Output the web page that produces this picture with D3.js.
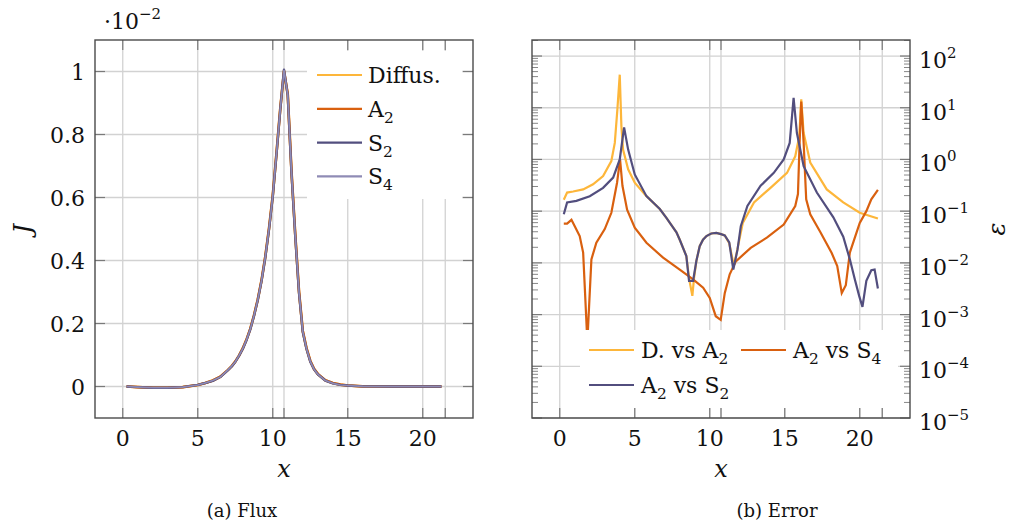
<!DOCTYPE html>
<html>
<head>
<meta charset="utf-8">
<script src="https://cdn.jsdelivr.net/npm/d3@7"></script>
<style>
  html, body { margin: 0; padding: 0; background: #fff; }
  svg { display: block; font-family: "DejaVu Serif", serif; }
</style>
</head>
<body>
<div id="chart"></div>
<script>
// ---------------- DATA ----------------
// (a) Flux, values in units of 1e-2
const fluxX    = [0.25, 1, 2, 3, 4, 5, 5.5, 6, 6.5, 7, 7.25, 7.5, 7.75, 8, 8.25, 8.5, 8.75, 9, 9.25, 9.5, 9.75, 10, 10.25, 10.5, 10.75, 11, 11.25, 11.5, 11.75, 12, 12.25, 12.5, 12.75, 13, 13.5, 14, 14.5, 15, 16, 18, 20, 21.25];
const fluxDiff = [0, -0.002, -0.004, -0.004, -0.002, 0.005, 0.011, 0.019, 0.031, 0.052, 0.064, 0.079, 0.098, 0.121, 0.149, 0.183, 0.226, 0.276, 0.336, 0.411, 0.501, 0.606, 0.741, 0.881, 1.0, 0.926, 0.681, 0.481, 0.301, 0.176, 0.121, 0.081, 0.056, 0.04, 0.02, 0.011, 0.006, 0.003, 0.0005, 0, 0, 0];
const fluxA2   = [0, -0.002, -0.004, -0.004, -0.002, 0.005, 0.011, 0.019, 0.031, 0.052, 0.064, 0.079, 0.098, 0.121, 0.149, 0.183, 0.226, 0.276, 0.337, 0.412, 0.502, 0.607, 0.742, 0.882, 1.002, 0.928, 0.683, 0.483, 0.303, 0.177, 0.122, 0.082, 0.056, 0.04, 0.02, 0.011, 0.006, 0.003, 0.0005, 0, 0, 0];
const fluxS2   = [0, -0.002, -0.004, -0.004, -0.002, 0.005, 0.011, 0.018, 0.030, 0.051, 0.063, 0.078, 0.097, 0.119, 0.147, 0.181, 0.224, 0.274, 0.334, 0.408, 0.498, 0.602, 0.738, 0.878, 1.006, 0.924, 0.677, 0.477, 0.297, 0.173, 0.119, 0.079, 0.055, 0.039, 0.019, 0.01, 0.005, 0.003, 0.0005, 0, 0, 0];
const fluxS4   = [0, -0.002, -0.004, -0.004, -0.002, 0.005, 0.011, 0.019, 0.030, 0.052, 0.064, 0.078, 0.098, 0.120, 0.148, 0.182, 0.225, 0.275, 0.335, 0.410, 0.500, 0.604, 0.740, 0.880, 1.004, 0.925, 0.679, 0.479, 0.299, 0.175, 0.120, 0.080, 0.055, 0.039, 0.019, 0.01, 0.005, 0.003, 0.0005, 0, 0, 0];
const fluxNames = ["Diffus.", "A2", "S2", "S4"];

// (b) Error (log scale)
const errDX = [0.27, 0.49, 0.89, 1.56, 2.22, 2.89, 3.44, 3.67, 3.84, 4.0, 4.11, 4.22, 4.56, 5.0, 5.78, 6.67, 7.11, 7.78, 8.0, 8.44, 8.62, 8.84, 8.95, 9.11, 9.33, 9.55, 9.78, 10.1, 10.44, 10.75, 11.0, 11.3, 11.6, 11.75, 12.2, 12.95, 14.05, 15.15, 15.7, 15.97, 16.1, 16.26, 16.7, 17.8, 18.9, 20.0, 21.21];
const errDV = [1.66e-1, 2.29e-1, 2.4e-1, 2.63e-1, 3.31e-1, 4.79e-1, 9.3e-1, 2.09, 9.1, 43.6, 4.37, 1.55, 6.46e-1, 3.55e-1, 1.95e-1, 1.1e-1, 7.4e-2, 3.9e-2, 2.8e-2, 1.35e-2, 5.0e-3, 2.3e-3, 5.0e-3, 1.1e-2, 2.1e-2, 2.8e-2, 3.3e-2, 3.7e-2, 3.8e-2, 3.6e-2, 3.4e-2, 2.4e-2, 8.9e-3, 1.35e-2, 5.9e-2, 1.48e-1, 2.82e-1, 5.5e-1, 1.15, 2.82, 14.5, 3.24, 8.7e-1, 2.63e-1, 1.48e-1, 9.3e-2, 7.2e-2];

const errS2X = [0.27, 0.49, 1.11, 2.0, 2.89, 3.56, 4.0, 4.29, 4.56, 5.0, 5.78, 6.67, 7.11, 7.78, 8.0, 8.44, 8.62, 8.89, 9.11, 9.33, 9.55, 9.78, 10.1, 10.44, 10.75, 11.0, 11.3, 11.57, 11.85, 12.07, 12.51, 13.39, 14.27, 14.93, 15.33, 15.59, 15.81, 16.26, 17.14, 18.24, 18.9, 19.34, 19.67, 19.96, 20.18, 20.44, 20.77, 20.99, 21.21];
const errS2V = [8.7e-2, 1.48e-1, 1.58e-1, 1.95e-1, 2.82e-1, 4.47e-1, 1.0, 4.17, 1.55, 5.13e-1, 1.95e-1, 1.1e-1, 7.4e-2, 3.9e-2, 2.8e-2, 1.35e-2, 4.5e-3, 4.5e-3, 1.1e-2, 2.1e-2, 2.8e-2, 3.3e-2, 3.7e-2, 3.8e-2, 3.6e-2, 3.4e-2, 2.5e-2, 7.4e-3, 1.8e-2, 5.1e-2, 1.26e-1, 3.1e-1, 5.5e-1, 1.0, 2.09, 15.5, 3.24, 7.4e-1, 2.29e-1, 7.6e-2, 3.2e-2, 1.17e-2, 4.8e-3, 2.3e-3, 1.41e-3, 4.5e-3, 7.2e-3, 7.4e-3, 3.2e-3];

const errS4X = [0.27, 0.49, 0.78, 1.0, 1.33, 1.56, 1.84, 2.11, 2.44, 3.0, 3.44, 3.82, 4.02, 4.18, 4.49, 5.0, 5.78, 6.89, 8.0, 8.89, 9.56, 10.0, 10.4, 10.73, 11.0, 11.33, 11.74, 12.73, 13.83, 14.93, 15.7, 15.88, 15.99, 16.1, 16.26, 16.43, 16.7, 17.36, 18.13, 18.5, 18.8, 19.07, 19.34, 20.0, 20.44, 20.77, 21.21];
const errS4V = [5.75e-2, 5.75e-2, 6.8e-2, 5.1e-2, 3.3e-2, 1.58e-2, 3.0e-4, 1.17e-2, 2.45e-2, 4.5e-2, 9.3e-2, 3.55e-1, 1.0, 3.1e-1, 1.07e-1, 4.8e-2, 2.45e-2, 1.26e-2, 7.4e-3, 4.8e-3, 3.3e-3, 2.1e-3, 9.3e-4, 7.9e-4, 2.6e-3, 6.0e-3, 1.07e-2, 1.95e-2, 3.1e-2, 5.5e-2, 1.26e-1, 2.14e-1, 2.09, 13.2, 2.09, 1.7e-1, 8.7e-2, 4.0e-2, 1.55e-2, 8.7e-3, 2.6e-3, 3.7e-3, 1.58e-2, 5.9e-2, 1.0e-1, 1.7e-1, 2.57e-1];

const xTicks = [0, 5, 10, 15, 20];
const xExtraTicks = [10.75, 21.5];
const fluxYTicks = [0, 0.2, 0.4, 0.6, 0.8, 1];
const errYExps = [-5, -4, -3, -2, -1, 0, 1, 2];

// ---------------- STYLE ----------------
const C_YEL = "#fdb63a", C_ORA = "#d9600f", C_PUR = "#524e7e", C_LPUR = "#8f8bb5";
const GRID = "#d2d2d2", AXIS = "#4a4a4a", TICK = "#7a7a7a";

const svg = d3.select("#chart").append("svg").attr("width", 1010).attr("height", 528);

function richText(g, x, y, parts, opts = {}) {
  const t = g.append("text").attr("x", x).attr("y", y)
    .attr("font-size", opts.size || 22).attr("fill", "#111")
    .attr("text-anchor", opts.anchor || "start");
  if (opts.italic) t.attr("font-style", "italic");
  if (opts.transform) t.attr("transform", opts.transform);
  parts.forEach(p => {
    const [s, kind] = Array.isArray(p) ? p : [p, null];
    const ts = t.append("tspan").text(s);
    if (kind === "sub") ts.attr("font-size", "70%").attr("dy", 6);
    else if (kind === "sup") ts.attr("font-size", "68%").attr("dy", -10);
    else if (kind === "reset") ts.attr("dy", opts.resetDy || 0);
  });
  return t;
}

function labelParts(name) {
  const m = name.match(/^([A-Z])(\d)$/);
  return m ? [m[1], [m[2], "sub"]] : [name];
}

// ================= (a) FLUX =================
{
  const L = 95, R = 473, T = 40, B = 418;
  const x = d3.scaleLinear().domain([-1.85, 23.35]).range([L, R]);
  const y = d3.scaleLinear().domain([-0.1, 1.1]).range([B, T]);
  const g = svg.append("g");
  const allX = xTicks.concat(xExtraTicks);

  g.selectAll(".vg").data(allX).enter().append("line")
    .attr("x1", d => x(d)).attr("x2", d => x(d)).attr("y1", T).attr("y2", B)
    .attr("stroke", GRID).attr("stroke-width", 1.3);
  g.selectAll(".hg").data(fluxYTicks).enter().append("line")
    .attr("x1", L).attr("x2", R).attr("y1", d => y(d)).attr("y2", d => y(d))
    .attr("stroke", GRID).attr("stroke-width", 1.3);

  svg.append("clipPath").attr("id", "clipA").append("rect").attr("x", L).attr("y", T).attr("width", R - L).attr("height", B - T);
  const line = d3.line().x(d => x(d[0])).y(d => y(d[1]));
  const series = [[fluxDiff, C_YEL, 2.6], [fluxA2, C_ORA, 2.6], [fluxS2, C_PUR, 2.4], [fluxS4, C_LPUR, 1.6]];
  const lg = g.append("g").attr("clip-path", "url(#clipA)");
  series.forEach(([vals, col, w]) => {
    lg.append("path").datum(fluxX.map((xx, k) => [xx, vals[k]]))
      .attr("d", line).attr("fill", "none").attr("stroke", col)
      .attr("stroke-width", w).attr("stroke-linejoin", "round");
  });

  const tl = 10;
  allX.forEach(d => {
    g.append("line").attr("x1", x(d)).attr("x2", x(d)).attr("y1", B).attr("y2", B - tl).attr("stroke", TICK).attr("stroke-width", 1.2);
    g.append("line").attr("x1", x(d)).attr("x2", x(d)).attr("y1", T).attr("y2", T + tl).attr("stroke", TICK).attr("stroke-width", 1.2);
  });
  fluxYTicks.forEach(d => {
    g.append("line").attr("x1", L).attr("x2", L + tl).attr("y1", y(d)).attr("y2", y(d)).attr("stroke", TICK).attr("stroke-width", 1.2);
    g.append("line").attr("x1", R).attr("x2", R - tl).attr("y1", y(d)).attr("y2", y(d)).attr("stroke", TICK).attr("stroke-width", 1.2);
  });

  g.append("rect").attr("x", 307).attr("y", 51).attr("width", 155).attr("height", 148).attr("fill", "#fff");
  const legCols = [C_YEL, C_ORA, C_PUR, C_LPUR];
  fluxNames.forEach((n, i) => {
    const yy = 75 + i * 33.8;
    g.append("line").attr("x1", 317).attr("x2", 362).attr("y1", yy).attr("y2", yy)
      .attr("stroke", legCols[i]).attr("stroke-width", 2.2);
    richText(g, 368, yy + 8, labelParts(n));
  });

  g.append("rect").attr("x", L).attr("y", T).attr("width", R - L).attr("height", B - T)
    .attr("fill", "none").attr("stroke", AXIS).attr("stroke-width", 1.4);

  xTicks.forEach(d => richText(g, x(d), 446, [String(d)], { anchor: "middle" }));
  fluxYTicks.forEach(d => richText(g, 85, y(d) + 8, [String(d)], { anchor: "end" }));

  richText(g, 104, 29, ["·10", ["−2", "sup"]]);

  richText(g, x(10.75), 477, ["x"], { anchor: "middle", italic: true, size: 24 });
  richText(g, 0, 0, ["J"], { anchor: "middle", italic: true, size: 24, transform: "translate(31,229) rotate(-90)" });

  richText(g, 242, 517, ["(a) Flux"], { anchor: "middle", size: 18 });
}

// ================= (b) ERROR =================
{
  const L = 532, R = 910, T = 40, B = 418;
  const x = d3.scaleLinear().domain([-1.85, 23.35]).range([L, R]);
  const y = d3.scaleLog().domain([1e-5, Math.pow(10, 2.31)]).range([B, T]);
  const g = svg.append("g");
  const allX = xTicks.concat(xExtraTicks);
  const yMajor = errYExps.map(e => Math.pow(10, e));
  const yMinor = [];
  for (let e = -5; e <= 2; e++) for (let m = 2; m <= 9; m++) {
    const v = m * Math.pow(10, e);
    if (v <= y.domain()[1]) yMinor.push(v);
  }

  g.selectAll(".vg").data(allX).enter().append("line")
    .attr("x1", d => x(d)).attr("x2", d => x(d)).attr("y1", T).attr("y2", B)
    .attr("stroke", GRID).attr("stroke-width", 1.3);
  g.selectAll(".hg").data(yMajor).enter().append("line")
    .attr("x1", L).attr("x2", R).attr("y1", d => y(d)).attr("y2", d => y(d))
    .attr("stroke", GRID).attr("stroke-width", 1.3);

  svg.append("clipPath").attr("id", "clipB").append("rect").attr("x", L).attr("y", T).attr("width", R - L).attr("height", B - T);
  const line = d3.line().x(d => x(d[0])).y(d => y(d[1]));
  const lg = g.append("g").attr("clip-path", "url(#clipB)");
  const series = [[errDX, errDV, C_YEL], [errS4X, errS4V, C_ORA], [errS2X, errS2V, C_PUR]];
  series.forEach(([xs, vs, col]) => {
    lg.append("path").datum(xs.map((xx, k) => [xx, vs[k]]))
      .attr("d", line).attr("fill", "none").attr("stroke", col)
      .attr("stroke-width", 2.2).attr("stroke-linejoin", "miter").attr("stroke-miterlimit", 4);
  });

  const tl = 10, tm = 6;
  allX.forEach(d => {
    g.append("line").attr("x1", x(d)).attr("x2", x(d)).attr("y1", B).attr("y2", B - tl).attr("stroke", TICK).attr("stroke-width", 1.2);
    g.append("line").attr("x1", x(d)).attr("x2", x(d)).attr("y1", T).attr("y2", T + tl).attr("stroke", TICK).attr("stroke-width", 1.2);
  });
  yMajor.forEach(d => {
    g.append("line").attr("x1", L).attr("x2", L + tl).attr("y1", y(d)).attr("y2", y(d)).attr("stroke", TICK).attr("stroke-width", 1.2);
    g.append("line").attr("x1", R).attr("x2", R - tl).attr("y1", y(d)).attr("y2", y(d)).attr("stroke", TICK).attr("stroke-width", 1.2);
  });
  yMinor.forEach(d => {
    g.append("line").attr("x1", L).attr("x2", L + tm).attr("y1", y(d)).attr("y2", y(d)).attr("stroke", TICK).attr("stroke-width", 0.9);
    g.append("line").attr("x1", R).attr("x2", R - tm).attr("y1", y(d)).attr("y2", y(d)).attr("stroke", TICK).attr("stroke-width", 0.9);
  });

  g.append("rect").attr("x", 580).attr("y", 330).attr("width", 318).attr("height", 78).attr("fill", "#fff");
  const leg = [
    { x1: 589, yy: 350, col: C_YEL, parts: ["D. vs A", ["2", "sub"]] },
    { x1: 741, yy: 350, col: C_ORA, parts: ["A", ["2", "sub"], [" vs S", "reset"], ["4", "sub"]] },
    { x1: 589, yy: 385, col: C_PUR, parts: ["A", ["2", "sub"], [" vs S", "reset"], ["2", "sub"]] }
  ];
  leg.forEach(e => {
    g.append("line").attr("x1", e.x1).attr("x2", e.x1 + 45).attr("y1", e.yy).attr("y2", e.yy)
      .attr("stroke", e.col).attr("stroke-width", 2.2);
    richText(g, e.x1 + 52, e.yy + 8, e.parts, { resetDy: -6 });
  });

  g.append("rect").attr("x", L).attr("y", T).attr("width", R - L).attr("height", B - T)
    .attr("fill", "none").attr("stroke", AXIS).attr("stroke-width", 1.4);

  xTicks.forEach(d => richText(g, x(d), 446, [String(d)], { anchor: "middle" }));
  errYExps.forEach(e => {
    const s = e < 0 ? "−" + Math.abs(e) : String(e);
    richText(g, 919, y(Math.pow(10, e)) + 12, ["10", [s, "sup"]]);
  });

  richText(g, x(10.75), 477, ["x"], { anchor: "middle", italic: true, size: 24 });
  richText(g, 0, 0, ["ε"], { anchor: "middle", italic: true, size: 24, transform: "translate(1005,229) rotate(-90)" });

  richText(g, 777, 517, ["(b) Error"], { anchor: "middle", size: 18 });
}
</script>
</body>
</html>
